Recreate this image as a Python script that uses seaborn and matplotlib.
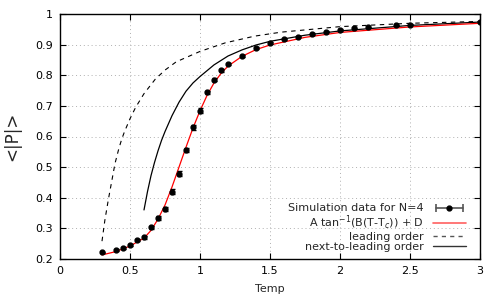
import matplotlib
matplotlib.use('Agg')
import matplotlib.pyplot as plt
import seaborn as sns
from matplotlib.lines import Line2D
from matplotlib.legend_handler import HandlerLine2D, HandlerTuple
from matplotlib.ticker import FuncFormatter

# simulation data with error bars
temp_sim = [0.3, 0.4, 0.45, 0.5, 0.55, 0.6, 0.65, 0.7, 0.75, 0.8, 0.85, 0.9, 0.95,
            1.0, 1.05, 1.1, 1.15, 1.2, 1.3, 1.4, 1.5, 1.6, 1.7, 1.8, 1.9, 2.0,
            2.1, 2.2, 2.4, 2.5, 3.0]
p_sim = [0.221, 0.228, 0.236, 0.245, 0.262, 0.271, 0.303, 0.333, 0.363, 0.420,
         0.479, 0.556, 0.630, 0.684, 0.744, 0.785, 0.816, 0.837, 0.864, 0.890,
         0.905, 0.917, 0.926, 0.935, 0.942, 0.948, 0.953, 0.957, 0.963, 0.966, 0.975]
p_err = [0.003, 0.003, 0.003, 0.004, 0.004, 0.005, 0.005, 0.006, 0.006, 0.008,
         0.008, 0.008, 0.008, 0.008, 0.006, 0.005, 0.005, 0.004, 0.003, 0.003,
         0.003, 0.002, 0.002, 0.002, 0.002, 0.002, 0.002, 0.002, 0.002, 0.002, 0.002]

# arctan fit curve
temp_fit = [0.3, 0.4, 0.5, 0.6, 0.65, 0.7, 0.75, 0.8, 0.85, 0.9, 0.95, 1.0, 1.05,
            1.1, 1.15, 1.2, 1.3, 1.4, 1.5, 1.75, 2.0, 2.5, 3.0]
p_fit = [0.213, 0.224, 0.242, 0.268, 0.293, 0.330, 0.376, 0.435, 0.500, 0.565,
         0.628, 0.684, 0.734, 0.775, 0.806, 0.830, 0.862, 0.884, 0.899, 0.924,
         0.940, 0.958, 0.970]

# leading order
temp_lo = [0.3, 0.32, 0.345, 0.37, 0.393, 0.42, 0.44, 0.46, 0.5, 0.54, 0.6, 0.68,
           0.75, 0.83, 0.96, 1.0, 1.18, 1.39, 1.58, 2.0, 2.5, 3.0]
p_lo = [0.258, 0.325, 0.393, 0.455, 0.512, 0.560, 0.590, 0.615, 0.658, 0.695,
        0.740, 0.787, 0.817, 0.844, 0.870, 0.878, 0.906, 0.928, 0.941, 0.959,
        0.970, 0.976]

# next-to-leading order
temp_nlo = [0.6, 0.625, 0.65, 0.675, 0.7, 0.725, 0.75, 0.8, 0.85, 0.9, 0.95, 1.0,
            1.05, 1.1, 1.2, 1.3, 1.4, 1.5, 1.75, 2.0, 2.5, 3.0]
p_nlo = [0.36, 0.42, 0.472, 0.515, 0.553, 0.587, 0.616, 0.668, 0.712, 0.748,
         0.775, 0.796, 0.815, 0.834, 0.863, 0.883, 0.899, 0.911, 0.931, 0.945,
         0.963, 0.974]

sns.set_style('ticks')
plt.rcParams['font.family'] = ['DejaVu Sans']

fig = plt.figure(figsize=(5, 3), dpi=100)
ax = fig.add_axes([0.12, 0.137, 0.84, 0.816])

ax.errorbar(temp_sim, p_sim, yerr=p_err, fmt='o', color='black', ms=3.5,
            elinewidth=1, capsize=1.8, capthick=1, zorder=4)
sns.lineplot(x=temp_fit, y=p_fit, ax=ax, color='red', lw=0.9, sort=False,
             zorder=3)
sns.lineplot(x=temp_lo, y=p_lo, ax=ax, color='black', lw=0.8, sort=False,
             zorder=2)
ax.lines[-1].set_linestyle((0, (4, 4)))
sns.lineplot(x=temp_nlo, y=p_nlo, ax=ax, color='black', lw=0.9, sort=False,
             zorder=2)

ax.set_xlim(0, 3)
ax.set_ylim(0.2, 1)
ax.set_xticks([0, 0.5, 1, 1.5, 2, 2.5, 3])
ax.set_yticks([0.2, 0.3, 0.4, 0.5, 0.6, 0.7, 0.8, 0.9, 1.0])
ax.xaxis.set_major_formatter(FuncFormatter(lambda v, p: '%g' % v))
ax.yaxis.set_major_formatter(FuncFormatter(lambda v, p: '%g' % v))
ax.tick_params(direction='in', top=True, right=True, length=4, width=0.8,
               labelsize=8, pad=5, colors='black')
ax.grid(True, color='#b0b0b0', linestyle=(0, (1, 3)), lw=0.7)
for s in ax.spines.values():
    s.set_linewidth(1)
    s.set_color('black')

ax.set_xlabel('Temp', fontsize=8, labelpad=6)
ax.set_ylabel('<|P|>', fontsize=12, labelpad=10)

# legend handles in gnuplot style
h_bar = Line2D([], [], color='#555555', lw=1.2, marker='|', ms=6, mew=1.2)
h_dot = Line2D([], [], color='black', ls='none', marker='o', ms=3.5)
h_fit = Line2D([], [], color='#ff6060', lw=1.2)
h_lo = Line2D([], [], color='#555555', lw=1.0, ls=(0, (3, 3)))
h_nlo = Line2D([], [], color='#333333', lw=1.0)
handles = [(h_bar, h_dot), h_fit, h_lo, h_nlo]
labels = ['Simulation data for N=4', r'A tan$^{-1}$(B(T-T$_c$)) + D',
          'leading order', 'next-to-leading order']
leg = ax.legend(handles, labels, loc='lower right', bbox_to_anchor=(0.985, -0.005),
                frameon=False, markerfirst=False, fontsize=8, labelspacing=0.02,
                handlelength=3.0, handletextpad=0.8, borderpad=0.2,
                handler_map={h_bar: HandlerLine2D(numpoints=2),
                             tuple: HandlerTuple(ndivide=1)})

fig.savefig('out.png', dpi=100)
